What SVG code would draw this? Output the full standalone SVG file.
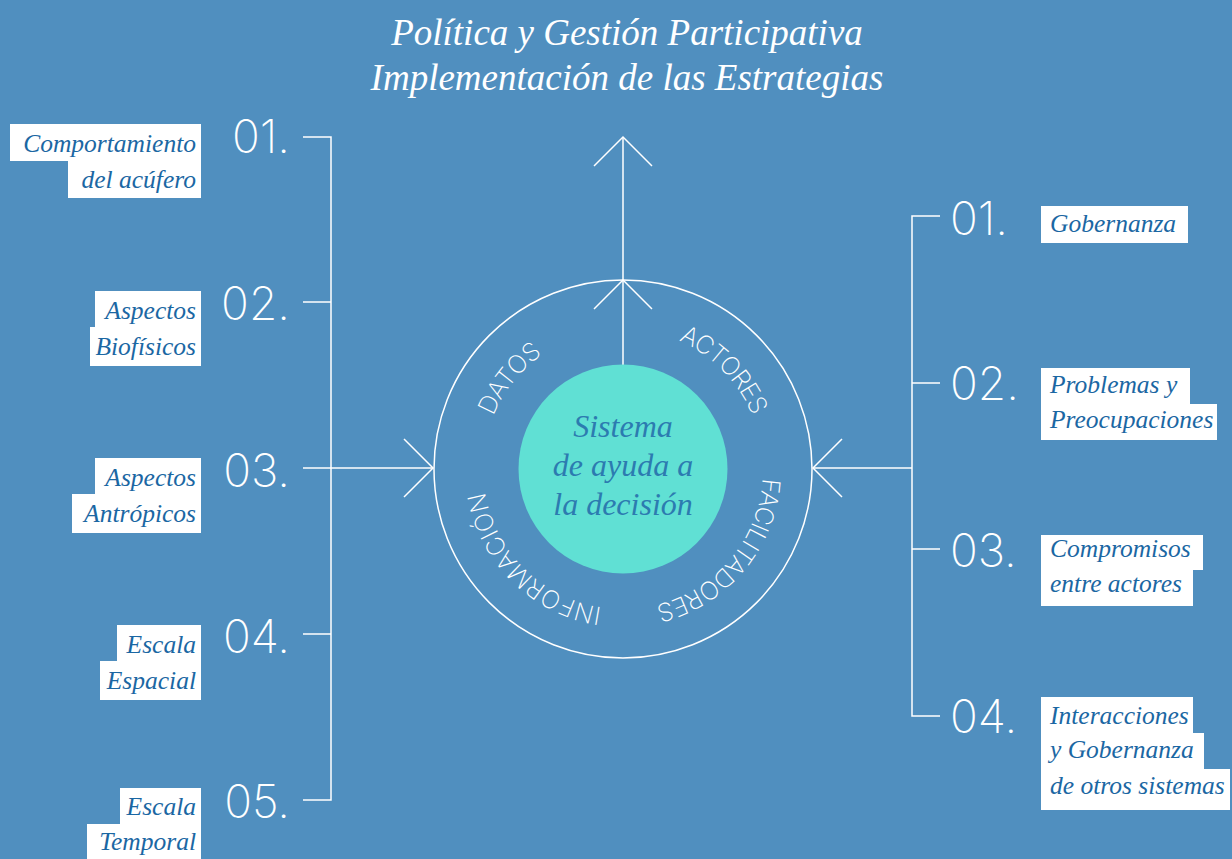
<svg xmlns="http://www.w3.org/2000/svg" xmlns:xlink="http://www.w3.org/1999/xlink" width="1232" height="859" viewBox="0 0 1232 859">
  <style>
    .ln { stroke: #ffffff; stroke-width: 1.5; fill: none; }
    .num { font-family: Inter, "Noto Sans", sans-serif; font-weight: 200; font-size: 46px; fill: #ffffff; }
    .box { fill: #ffffff; }
    .lbl { font-family: "Liberation Serif", serif; font-style: italic; font-size: 25.5px; fill: #1b67a3; }
    .lblL { text-anchor: end; }
    .title { font-family: "Liberation Serif", serif; font-style: italic; font-size: 37px; fill: #ffffff; text-anchor: middle; }
    .core { font-family: "Liberation Serif", serif; font-style: italic; font-size: 32px; fill: #2c7bb0; text-anchor: middle; }
    .ring { font-family: Inter, "Noto Sans", sans-serif; font-weight: 200; font-size: 25px; fill: #ffffff; }
  </style>
  <defs>
    <marker id="vhead" markerUnits="userSpaceOnUse" markerWidth="80" markerHeight="80" refX="0" refY="0" orient="auto" overflow="visible">
      <path d="M-29,-29 L0,0 L-29,29" stroke="#ffffff" stroke-width="1.5" fill="none"/>
    </marker>
    <!-- clockwise circle (r=140) starting at 0° (east), drawn twice for wrap-around -->
    <path id="ringPath" d="M763,469 A140,140 0 1 1 483,469 A140,140 0 1 1 763,469 A140,140 0 1 1 483,469 A140,140 0 1 1 763,469"/>
  </defs>

  <rect width="1232" height="859" fill="#508fbf"/>

  <!-- title -->
  <g id="title">
    <text class="title" x="627" y="45">Política y Gestión Participativa</text>
    <text class="title" x="627" y="90">Implementación de las Estrategias</text>
  </g>

  <!-- connectors -->
  <g id="connectors">
    <!-- left bracket -->
    <path class="ln" d="M303,137 H331 V800 H303 M303,302 H331 M303,634 H331"/>
    <path class="ln" d="M303,468 H433" marker-end="url(#vhead)"/>
    <!-- right bracket -->
    <path class="ln" d="M940,216 H912 V716 H940 M912,383 H940 M912,549 H940"/>
    <path class="ln" d="M912,468 H813" marker-end="url(#vhead)"/>
    <!-- upward output arrow -->
    <path class="ln" d="M623,368 V280" marker-end="url(#vhead)"/>
    <path class="ln" d="M623,280 V137" marker-end="url(#vhead)"/>
  </g>

  <!-- central decision-support system -->
  <g id="core">
    <circle class="ln" cx="623" cy="469" r="189"/>
    <circle cx="623" cy="469" r="104.5" fill="#60e0d4"/>
    <text class="core" x="623" y="437">Sistema</text>
    <text class="core" x="623" y="476">de ayuda a</text>
    <text class="core" x="623" y="515">la decisión</text>
  </g>

  <g id="ring-labels">
    <!-- offsets: angle/360 * 879.6 (circumference of r=140) -->
    <text class="ring"><textPath xlink:href="#ringPath" startOffset="534" text-anchor="middle" textLength="80" lengthAdjust="spacing">DATOS</textPath></text>
    <text class="ring"><textPath xlink:href="#ringPath" startOffset="771" text-anchor="middle" textLength="108" lengthAdjust="spacing">ACTORES</textPath></text>
    <text class="ring"><textPath xlink:href="#ringPath" startOffset="98" text-anchor="middle" textLength="178" lengthAdjust="spacing">FACILITADORES</textPath></text>
    <text class="ring"><textPath xlink:href="#ringPath" startOffset="329" text-anchor="middle" textLength="176" lengthAdjust="spacing">INFORMACIÓN</textPath></text>
  </g>

  <!-- left inputs -->
  <g id="left-01">
    <text class="num" x="290" y="153" text-anchor="end">01.</text>
    <rect class="box" x="10" y="124" width="191" height="37"/>
    <rect class="box" x="68" y="161" width="133" height="37"/>
    <text class="lbl lblL" x="196" y="152">Comportamiento</text>
    <text class="lbl lblL" x="196" y="188">del acúfero</text>
  </g>
  <g id="left-02">
    <text class="num" x="290" y="320" text-anchor="end">02.</text>
    <rect class="box" x="95" y="291" width="106" height="36"/>
    <rect class="box" x="90" y="327" width="111" height="39"/>
    <text class="lbl lblL" x="196" y="319">Aspectos</text>
    <text class="lbl lblL" x="196" y="355">Biofísicos</text>
  </g>
  <g id="left-03">
    <text class="num" x="290" y="487" text-anchor="end">03.</text>
    <rect class="box" x="95" y="458" width="106" height="36"/>
    <rect class="box" x="72" y="494" width="129" height="39"/>
    <text class="lbl lblL" x="196" y="486">Aspectos</text>
    <text class="lbl lblL" x="196" y="522">Antrópicos</text>
  </g>
  <g id="left-04">
    <text class="num" x="290" y="653" text-anchor="end">04.</text>
    <rect class="box" x="117" y="625" width="84" height="36"/>
    <rect class="box" x="100" y="661" width="101" height="39"/>
    <text class="lbl lblL" x="196" y="653">Escala</text>
    <text class="lbl lblL" x="196" y="689">Espacial</text>
  </g>
  <g id="left-05">
    <text class="num" x="290" y="818" text-anchor="end">05.</text>
    <rect class="box" x="120" y="788" width="81" height="36"/>
    <rect class="box" x="87" y="824" width="114" height="35"/>
    <text class="lbl lblL" x="196" y="815">Escala</text>
    <text class="lbl lblL" x="196" y="850">Temporal</text>
  </g>

  <!-- right inputs -->
  <g id="right-01">
    <text class="num" x="950" y="235">01.</text>
    <rect class="box" x="1041" y="206" width="147" height="37"/>
    <text class="lbl" x="1050" y="232">Gobernanza</text>
  </g>
  <g id="right-02">
    <text class="num" x="950" y="400">02.</text>
    <rect class="box" x="1041" y="368" width="149" height="36"/>
    <rect class="box" x="1041" y="404" width="176" height="36"/>
    <text class="lbl" x="1050" y="393">Problemas y</text>
    <text class="lbl" x="1050" y="428">Preocupaciones</text>
  </g>
  <g id="right-03">
    <text class="num" x="950" y="567">03.</text>
    <rect class="box" x="1041" y="535" width="162" height="35"/>
    <rect class="box" x="1041" y="570" width="152" height="36"/>
    <text class="lbl" x="1050" y="557">Compromisos</text>
    <text class="lbl" x="1050" y="592">entre actores</text>
  </g>
  <g id="right-04">
    <text class="num" x="950" y="733">04.</text>
    <rect class="box" x="1041" y="697" width="152" height="36"/>
    <rect class="box" x="1041" y="733" width="163" height="36"/>
    <rect class="box" x="1041" y="769" width="189" height="41"/>
    <text class="lbl" x="1050" y="724">Interacciones</text>
    <text class="lbl" x="1050" y="758">y Gobernanza</text>
    <text class="lbl" x="1050" y="794">de otros sistemas</text>
  </g>
</svg>
